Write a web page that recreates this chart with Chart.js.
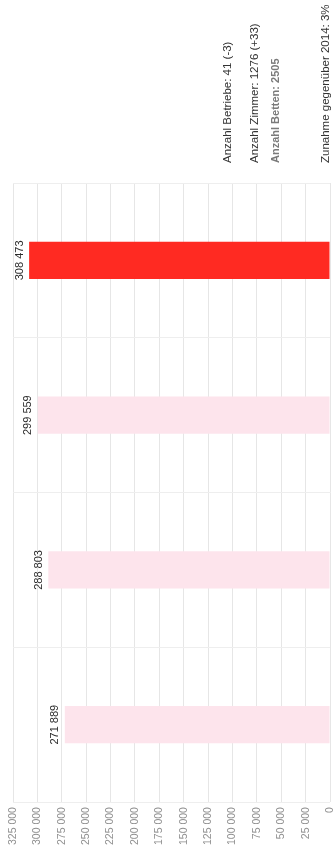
<!DOCTYPE html>
<html>
<head>
<meta charset="utf-8">
<script src="https://cdn.jsdelivr.net/npm/chart.js@4/dist/chart.umd.min.js"></script>
<style>
    html, body { margin: 0; padding: 0; background: #ffffff; }
    #wrap { position: relative; width: 336px; height: 853px; }
</style>
</head>
<body>
<div id="wrap"><canvas id="chart"></canvas></div>
<script>
// Data (top bar = latest year)
const years = ['2015', '2014', '2013', '2012'];
const nights = [308473, 299559, 288803, 271889];
const barColors = ['#ff2a22', '#fde4ec', '#fde4ec', '#fde4ec'];
const axisMax = 325000;
const axisStep = 25000;

// Notes printed above the chart
const notes = [
    { text: 'Anzahl Betriebe: 41 (-3)', bold: false },
    { text: 'Anzahl Zimmer: 1276 (+33)', bold: false },
    { text: 'Anzahl Betten: 2505', bold: true },
    { text: 'Zunahme gegenüber 2014: 3%', bold: false }
];
const noteX = [228, 255, 276, 326];

function fmt(v) {
    return String(v).replace(/\B(?=(\d{3})+(?!\d))/g, ' ');
}

// Value labels next to bar ends, rotated
const valueLabels = {
    id: 'valueLabels',
    afterDatasetsDraw(chart) {
        const ctx = chart.ctx;
        const meta = chart.getDatasetMeta(0);
        ctx.save();
        ctx.fillStyle = '#2b2b2b';
        ctx.font = '11px "Liberation Sans", Arial, sans-serif';
        meta.data.forEach((bar, i) => {
            ctx.save();
            ctx.translate(bar.x - 4, bar.y);
            ctx.rotate(-Math.PI / 2);
            ctx.textAlign = 'center';
            ctx.textBaseline = 'bottom';
            ctx.fillText(fmt(nights[i]), 0, 0);
            ctx.restore();
        });
        ctx.restore();
    }
};

// Notes block at the top right
const notesBlock = {
    id: 'notesBlock',
    afterDraw(chart) {
        const ctx = chart.ctx;
        ctx.save();
        notes.forEach((n, i) => {
            ctx.save();
            ctx.translate(noteX[i], 163);
            ctx.rotate(-Math.PI / 2);
            ctx.textAlign = 'left';
            ctx.textBaseline = 'middle';
            ctx.font = (n.bold ? 'bold ' : '') + (n.bold ? '11px' : '11.5px') + ' "Liberation Sans", Arial, sans-serif';
            ctx.fillStyle = n.bold ? '#7a7a7a' : '#333333';
            ctx.fillText(n.text, 0, 0);
            ctx.restore();
        });
        ctx.restore();
    }
};

const ctx = document.getElementById('chart').getContext('2d');
new Chart(ctx, {
    type: 'bar',
    data: {
        labels: years,
        datasets: [{
            data: nights,
            backgroundColor: barColors,
            borderWidth: 0,
            barPercentage: 0.24,
            categoryPercentage: 1
        }]
    },
    options: {
        indexAxis: 'y',
        responsive: true,
        maintainAspectRatio: false,
        animation: false,
        layout: { padding: { top: 183, left: 13, right: 6, bottom: 3 } },
        plugins: {
            legend: { display: false },
            tooltip: { enabled: false }
        },
        scales: {
            x: {
                reverse: true,
                min: 0,
                max: axisMax,
                position: 'bottom',
                border: { display: false },
                grid: { color: '#e6e6e6', lineWidth: 1, drawTicks: false },
                afterFit: (scale) => {
                    // rotated labels need no side room here
                    scale.paddingLeft = 0;
                    scale.paddingRight = 0;
                },
                ticks: {
                    stepSize: axisStep,
                    minRotation: 90,
                    maxRotation: 90,
                    padding: 5,
                    color: '#909090',
                    font: { family: '"Liberation Sans", Arial, sans-serif', size: 10.5 },
                    callback: (v) => fmt(v)
                }
            },
            y: {
                border: { display: false },
                grid: { color: '#eeeeee', lineWidth: 1, drawTicks: false, offset: true },
                ticks: { display: false }
            }
        }
    },
    plugins: [valueLabels, notesBlock]
});
</script>
</body>
</html>
